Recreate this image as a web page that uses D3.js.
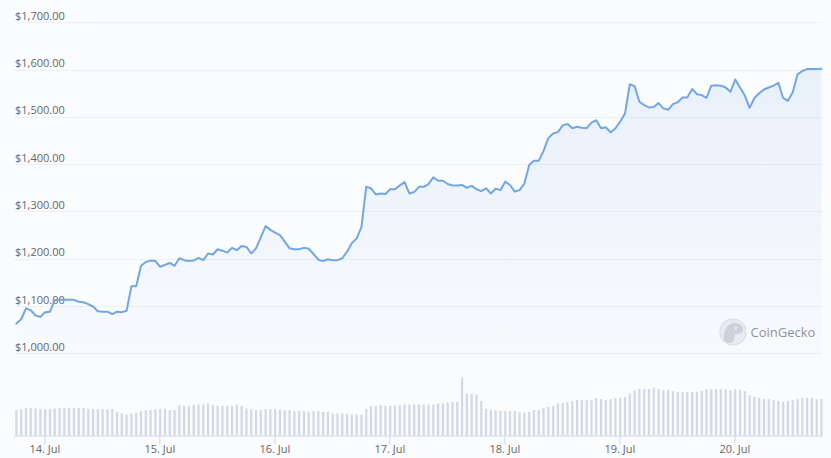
<!DOCTYPE html>
<html>
<head>
<meta charset="utf-8">
<script src="https://cdn.jsdelivr.net/npm/d3@7"></script>
<style>
  html, body { margin: 0; padding: 0; background: #fbfcfe; }
  svg { display: block; }
  text { font-family: "Open Sans", sans-serif; }
</style>
</head>
<body>
<svg id="chart" width="831" height="458"></svg>
<script>
// ---- data (hourly, ETH price in USD, 13 Jul 18:10 UTC -> 20 Jul 18:10 UTC) ----
const startTime = Date.UTC(2022, 6, 13, 18, 10);
const prices = [
  1063,1072,1095,1091,1080,1077,1087,1088,1112,1113,1113,1113,1113,1109,1108,1104,1099,1089,1088,1088,
  1083,1088,1087,1090,1142,1142,1185,1193,1196,1195,1183,1187,1191,1185,1201,1197,1195,1196,1202,1197,
  1211,1209,1220,1217,1213,1223,1218,1227,1225,1211,1222,1245,1269,1261,1255,1250,1236,1222,1220,1220,
  1223,1221,1210,1198,1195,1199,1197,1197,1201,1215,1233,1243,1267,1352,1349,1336,1338,1337,1347,1347,
  1355,1362,1338,1341,1352,1352,1358,1372,1365,1365,1358,1355,1355,1356,1350,1354,1347,1343,1349,1338,
  1348,1345,1363,1356,1342,1345,1359,1398,1407,1407,1428,1455,1465,1468,1482,1485,1476,1479,1477,1476,
  1488,1493,1476,1478,1467,1476,1490,1507,1569,1565,1532,1525,1520,1521,1529,1518,1515,1527,1531,1541,
  1541,1559,1548,1546,1540,1566,1567,1566,1562,1553,1579,1562,1545,1519,1540,1550,1558,1562,1566,1572,
  1540,1534,1552,1590,1597,1601,1601,1601,1602
];
// 24h volume, billions USD
const volumes = [
  12.7,13.2,13.8,13.8,13.5,13.2,13.2,13.2,13.5,13.8,13.8,13.8,13.8,13.8,13.8,13.3,13.2,13.2,13.2,13.2,
  13.2,11.8,11.0,10.5,11.0,11.5,12.2,12.7,12.7,13.2,13.2,13.2,12.7,12.7,15.2,14.8,14.8,15.2,15.5,15.5,
  16.0,15.2,14.8,14.8,14.8,14.8,15.5,14.8,13.5,13.2,12.7,12.7,13.2,13.2,13.2,13.0,12.7,12.7,12.3,12.3,
  12.3,11.8,12.3,12.2,11.8,11.8,11.0,11.0,11.0,11.0,10.5,10.5,10.5,13.2,14.8,14.8,15.2,14.8,14.8,14.8,
  15.2,15.5,15.5,15.5,15.5,15.5,15.5,15.5,16.0,16.0,16.5,16.8,16.8,29.0,21.0,20.8,20.5,17.3,13.3,13.0,
  12.7,12.3,12.3,12.3,12.3,11.8,11.5,11.8,12.7,12.7,13.8,14.3,14.8,16.0,16.3,16.8,17.3,17.7,17.7,17.7,
  17.7,18.8,18.2,17.7,18.2,18.8,18.8,19.3,21.0,22.7,23.2,23.2,23.2,23.8,23.2,22.7,22.7,22.2,21.8,21.8,
  21.8,21.8,21.8,22.3,23.2,23.2,23.2,23.2,23.2,22.7,23.2,22.7,22.2,20.2,19.3,18.8,18.2,18.2,17.7,17.2,
  16.8,17.3,17.7,18.2,18.8,18.8,18.8,18.2,18.2
];
const priceTicks = [1000, 1100, 1200, 1300, 1400, 1500, 1600, 1700];
const dayTicks = ["2022-07-14","2022-07-15","2022-07-16","2022-07-17","2022-07-18","2022-07-19","2022-07-20"];

const times = prices.map((_, i) => new Date(startTime + i * 3600e3));
const data = prices.map((p, i) => ({ t: times[i], p, v: volumes[i] }));

// ---- layout ----
const svg = d3.select("#chart");
const plotLeft = 14, plotRight = 822;
const x = d3.scaleUtc().domain([times[0], times[times.length - 1]]).range([16.4, 821.5]);
const y = d3.scaleLinear().domain([1000, 1700]).range([353.3, 22.3]);
const volBase = 435.5;
const yVol = d3.scaleLinear().domain([0, 30]).range([volBase, volBase - 60]);

// gradient for area
const defs = svg.append("defs");
const grad = defs.append("linearGradient").attr("id", "areaGrad")
  .attr("x1", 0).attr("y1", 0).attr("x2", 0).attr("y2", 1);
grad.append("stop").attr("offset", "0%").attr("stop-color", "#73a8e4").attr("stop-opacity", 0.14);
grad.append("stop").attr("offset", "100%").attr("stop-color", "#73a8e4").attr("stop-opacity", 0.02);

// gridlines + y labels
const yAxis = d3.axisLeft(y).tickValues(priceTicks).tickSize(0)
  .tickFormat(d => "$" + d3.format(",.2f")(d));
const gy = svg.append("g");
gy.selectAll("line").data(priceTicks).join("line")
  .attr("x1", plotLeft).attr("x2", plotRight)
  .attr("y1", d => Math.round(y(d)) + 0.5).attr("y2", d => Math.round(y(d)) + 0.5)
  .attr("stroke", "#eceff5").attr("stroke-width", 1);
gy.selectAll("text").data(priceTicks).join("text")
  .attr("x", 15).attr("y", d => y(d) - 2.5)
  .attr("fill", "#666").attr("font-size", 11)
  .text(d => yAxis.tickFormat()(d));

// watermark
const wm = svg.append("g").attr("transform", "translate(733,332)");
wm.append("circle").attr("r", 13).attr("fill", "#eceef2").attr("stroke", "#dcdfe5").attr("stroke-width", 1.2);
wm.append("path")
  .attr("d", "M-9,8 C-10,-2 -6,-9 2,-9 C7,-9 10,-6 10,-2 C10,1 7,2 4,2 C2,2 1,4 1,7 C1,9 0,10 -2,11 C-5,11 -8,10 -9,8 Z")
  .attr("fill", "#cfd3da");
wm.append("circle").attr("cx", 3).attr("cy", -4).attr("r", 1.6).attr("fill", "#eceef2");
svg.append("text").attr("x", 750.5).attr("y", 336.5)
  .attr("fill", "#8f949c").attr("font-size", 13).text("CoinGecko");

// area + line
const area = d3.area().x(d => x(d.t)).y0(360).y1(d => y(d.p));
svg.append("path").datum(data).attr("d", area).attr("fill", "url(#areaGrad)");
const line = d3.line().x(d => x(d.t)).y(d => y(d.p));
svg.append("path").datum(data).attr("d", line)
  .attr("fill", "none").attr("stroke", "#72a7e3").attr("stroke-width", 2)
  .attr("stroke-linejoin", "round").attr("stroke-linecap", "round");

// volume bars
svg.append("g").selectAll("rect").data(data).join("rect")
  .attr("x", d => x(d.t) - 1.1).attr("width", 2.2)
  .attr("y", d => yVol(d.v)).attr("height", d => volBase - yVol(d.v))
  .attr("fill", "#d3d9e3");

// x axis
const dayDates = dayTicks.map(s => new Date(s + "T00:00:00Z"));
const xAxis = d3.axisBottom(x).tickValues(dayDates).tickSize(9).tickPadding(1)
  .tickFormat(d3.utcFormat("%-d. %b"));
const gx = svg.append("g").attr("transform", `translate(0,${volBase})`).call(xAxis);
gx.select(".domain").attr("d", `M${plotLeft},0.5H${plotRight}`).attr("stroke", "#ccd6eb");
gx.selectAll(".tick line").attr("stroke", "#ccd6eb");
gx.selectAll(".tick text").attr("fill", "#666").attr("font-size", 11)
  .attr("font-family", "'Open Sans', sans-serif");
</script>
</body>
</html>
